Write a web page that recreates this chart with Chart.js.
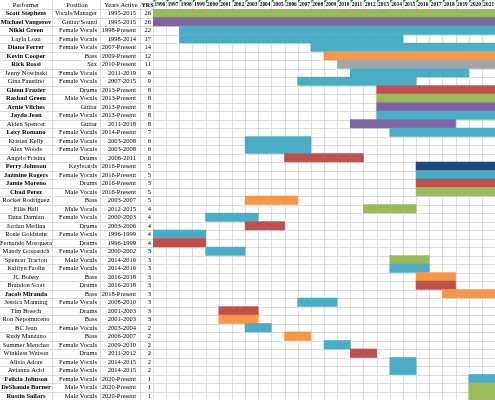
<!DOCTYPE html>
<html>
<head>
<meta charset="utf-8">
<script src="https://cdn.jsdelivr.net/npm/chart.js@4.4.0/dist/chart.umd.min.js"></script>
<style>
  html, body { margin: 0; padding: 0; background: #fff; }
  #wrap { width: 495px; height: 400px; }
</style>
</head>
<body>
<div id="wrap"><canvas id="gantt"></canvas></div>
<script>
const performers = ['Scott Stephens', 'Michael Vangerov', 'Nikki Green', 'Layla Loza', 'Diana Ferrer', 'Kevin Cooper', 'Rick Rossi', 'Jenny Nowinski', 'Gina Faustino', 'Glenn Frazier', 'Rashad Green', 'Arnie Vilches', 'Jayda Jean', 'Aiden Spencer', 'Lexy Romano', 'Kristen Kelly', 'Alex Woods', 'Angelo Frisina', 'Perry Johnson', 'Jazmine Rogers', 'Jamie Moreno', 'Chad Perez', 'Rocket Rodriguez', 'Ellis Hall', 'Dana Damian', 'Jordan Medina', 'Rosie Goldstein', 'Fernando Mosquera', 'Mandy Gosparich', 'Spencer Tracton', 'Kaitlyn Faolin', 'JC Boissy', 'Brandon Scott', 'Jacob Miranda', 'Jessica Manning', 'Tim Breech', 'Ron Nepomuceno', 'BC Jean', 'Rudy Manzano', 'Summer Mencher', 'Winkless Watson', 'Alisia Adore', 'Avianna Acid', 'Felicia Johnson', 'DeShaude Barner', 'Rustin Sailors'];
const positions = ['Vocals/Manager', 'Guitar/Sound', 'Female Vocals', 'Female Vocals', 'Female Vocals', 'Bass', 'Sax', 'Female Vocals', 'Female Vocals', 'Drums', 'Male Vocals', 'Guitar', 'Female Vocals', 'Guitar', 'Female Vocals', 'Female Vocals', 'Female Vocals', 'Drums', 'Keyboards', 'Female Vocals', 'Drums', 'Male Vocals', 'Bass', 'Male Vocals', 'Female Vocals', 'Drums', 'Female Vocals', 'Drums', 'Female Vocals', 'Male Vocals', 'Female Vocals', 'Bass', 'Drums', 'Bass', 'Female Vocals', 'Drums', 'Bass', 'Female Vocals', 'Bass', 'Female Vocals', 'Drums', 'Female Vocals', 'Female Vocals', 'Female Vocals', 'Male Vocals', 'Male Vocals'];
const yearsActive = ['1995-2015', '1995-2015', '1998-Present', '1998-2014', '2007-Present', '2009-Present', '2010-Present', '2011-2019', '2007-2015', '2013-Present', '2013-Present', '2013-Present', '2013-Present', '2011-2018', '2014-Present', '2003-2008', '2003-2008', '2006-2011', '2016-Present', '2016-Present', '2016-Present', '2016-Present', '2003-2007', '2012-2015', '2000-2003', '2003-2006', '1996-1999', '1996-1999', '2000-2002', '2014-2016', '2014-2016', '2016-2018', '2016-2018', '2018-Present', '2008-2010', '2001-2003', '2001-2003', '2003-2004', '2006-2007', '2009-2010', '2011-2012', '2014-2015', '2014-2015', '2020-Present', '2020-Present', '2020-Present'];
const yrs = [26, 26, 22, 17, 14, 12, 11, 9, 9, 8, 8, 8, 8, 8, 7, 6, 6, 6, 5, 5, 5, 5, 5, 4, 4, 4, 4, 4, 3, 3, 3, 3, 3, 3, 3, 3, 3, 2, 2, 2, 2, 2, 2, 1, 1, 1];
const bold = [1, 1, 1, 0, 1, 1, 1, 0, 0, 1, 1, 1, 1, 0, 1, 0, 0, 0, 1, 1, 1, 1, 0, 0, 0, 0, 0, 0, 0, 0, 0, 0, 0, 1, 0, 0, 0, 0, 0, 0, 0, 0, 0, 1, 1, 1];
// first and last year column each bar covers, as drawn
const barFrom = [1996, 1996, 1998, 1998, 2008, 2009, 2010, 2011, 2007, 2013, 2013, 2013, 2013, 2011, 2014, 2003, 2003, 2006, 2016, 2016, 2016, 2016, 2003, 2012, 2000, 2003, 1996, 1996, 2000, 2014, 2014, 2016, 2016, 2018, 2007, 2001, 2001, 2003, 2006, 2009, 2011, 2014, 2014, 2020, 2020, 2020];
const barTo = [2021, 2021, 2021, 2014, 2021, 2021, 2021, 2019, 2015, 2021, 2021, 2021, 2021, 2018, 2021, 2007, 2007, 2011, 2021, 2021, 2021, 2021, 2006, 2015, 2003, 2005, 1999, 1999, 2002, 2016, 2016, 2018, 2018, 2021, 2009, 2003, 2003, 2004, 2007, 2010, 2012, 2015, 2015, 2021, 2021, 2021];
const yearLabels = ['1996', '1997', '1998', '1999', '2000', '2001', '2002', '2003', '2004', '2005', '2006', '2007', '2008', '2009', '2010', '2011', '2012', '2013', '2014', '2015', '2016', '2017', '2018', '2019', '2020', '2021'];

const roleColors = {
  'Vocals/Manager': '#9bbb59', 'Male Vocals': '#9bbb59',
  'Guitar/Sound': '#8064a2', 'Guitar': '#8064a2',
  'Female Vocals': '#4bacc6', 'Bass': '#f79646',
  'Drums': '#c0504d', 'Sax': '#a5a5a5', 'Keyboards': '#1f497d'
};

const colEdges = [52, 100, 140, 153];
const FONT = '"Liberation Serif", "Times New Roman", serif';

const tablePlugin = {
  id: 'table',
  beforeDatasetsDraw(chart) {
    const ctx = chart.ctx, x = chart.scales.x, y = chart.scales.y, area = chart.chartArea;
    const half = (area.bottom - area.top) / performers.length / 2;
    ctx.save();
    ctx.strokeStyle = '#dedede';
    ctx.lineWidth = 1;
    ctx.beginPath();
    for (let i = 0; i < performers.length; i++) {
      const yy = Math.round(y.getPixelForValue(i) - half) + 0.5;
      ctx.moveTo(0, yy); ctx.lineTo(chart.width, yy);
    }
    colEdges.forEach(cx => { ctx.moveTo(cx + 0.5, 0); ctx.lineTo(cx + 0.5, chart.height); });
    for (let i = 1; i <= yearLabels.length; i++) {
      const xx = Math.round(x.getPixelForValue(+yearLabels[0] + i)) + 0.5;
      ctx.moveTo(xx, 0); ctx.lineTo(xx, chart.height);
    }
    ctx.stroke();
    ctx.restore();
  },
  afterDatasetsDraw(chart) {
    const ctx = chart.ctx, x = chart.scales.x, y = chart.scales.y, area = chart.chartArea;
    ctx.save();
    ctx.fillStyle = '#000';
    ctx.textBaseline = 'middle';
    const hy = area.top / 2 + 0.5;
    ctx.font = '6.5px ' + FONT;
    ctx.textAlign = 'center';
    ctx.fillText('Performer', 26, hy);
    ctx.fillText('Position', 77, hy);
    ctx.fillText('Years Active', 121, hy);
    ctx.font = 'bold 6px ' + FONT;
    ctx.textAlign = 'left';
    ctx.fillText('YRS', 141.5, hy);
    ctx.font = 'bold 5.4px ' + FONT;
    yearLabels.forEach(lbl => {
      const xx = x.getPixelForValue(+lbl);
      ctx.fillStyle = '#000';
      ctx.fillText(lbl, xx + 1.5, hy);
      ctx.fillStyle = '#208020';
      ctx.beginPath();
      ctx.moveTo(xx + 0.5, 0); ctx.lineTo(xx + 3, 0); ctx.lineTo(xx + 0.5, 2.5);
      ctx.closePath(); ctx.fill();
    });
    ctx.fillStyle = '#000';
    performers.forEach((name, i) => {
      const cy = y.getPixelForValue(i) + 0.5;
      ctx.font = (bold[i] ? 'bold ' : '') + '6.5px ' + FONT;
      ctx.textAlign = 'center';
      ctx.fillText(name, 26, cy);
      ctx.font = '6.5px ' + FONT;
      ctx.textAlign = 'right';
      ctx.fillText(positions[i], 97, cy);
      ctx.fillText(yearsActive[i], 136, cy);
      ctx.fillText(String(yrs[i]), 151, cy);
    });
    ctx.restore();
  }
};

new Chart(document.getElementById('gantt'), {
  type: 'bar',
  data: {
    labels: performers,
    datasets: [{
      data: performers.map((p, i) => [barFrom[i], barTo[i] + 1]),
      backgroundColor: positions.map(p => roleColors[p]),
      barPercentage: 1,
      categoryPercentage: 1,
      borderWidth: 0,
      borderSkipped: false
    }]
  },
  options: {
    indexAxis: 'y',
    responsive: true,
    maintainAspectRatio: false,
    animation: false,
    layout: { padding: { left: 153, top: 9, right: 0, bottom: 0 } },
    scales: {
      x: { type: 'linear', min: 1996, max: 2022, display: false },
      y: { type: 'category', display: false }
    },
    plugins: { legend: { display: false }, tooltip: { enabled: false } }
  },
  plugins: [tablePlugin]
});
</script>
</body>
</html>
